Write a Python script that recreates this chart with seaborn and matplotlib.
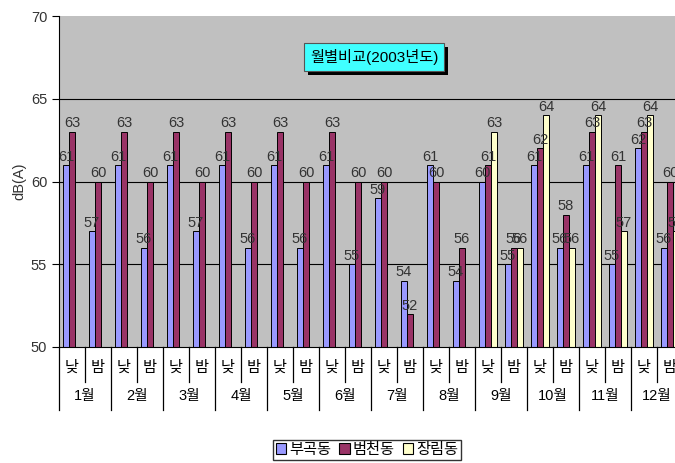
import pandas as pd
import matplotlib.pyplot as plt
import matplotlib.patheffects as pe
import seaborn as sns

plt.rcParams['font.family'] = ['Liberation Sans', 'Noto Sans CJK KR', 'DejaVu Sans']

months = ['1월', '2월', '3월', '4월', '5월', '6월', '7월', '8월', '9월', '10월', '11월', '12월']
times = ['낮', '밤']
regions = ['부곡동', '범천동', '장림동']

# 낮, 밤 순서로 월별 값
bugok = [61, 57, 61, 56, 61, 57, 61, 56, 61, 56, 61, 55,
         59, 54, 61, 54, 60, 55, 61, 56, 61, 55, 62, 56]
beomcheon = [63, 60, 63, 60, 63, 60, 63, 60, 63, 60, 63, 60,
             60, 52, 60, 56, 61, 56, 62, 58, 63, 61, 63, 60]
jangrim = [None] * 16 + [63, 56, 64, 56, 64, 57, 64, 57]

cats = [m + ' ' + t for m in months for t in times]
df = pd.DataFrame({
    'cat': cats * 3,
    'region': [r for r in regions for _ in cats],
    'dB': bugok + beomcheon + jangrim,
})

colors = ['#9999FF', '#993366', '#FFFFCC']

fig = plt.figure(figsize=(6.75, 4.63), dpi=100)
ax = fig.add_axes([59 / 675, 1 - 347 / 463, 624 / 675, 331 / 463])
ax.set_facecolor('#C0C0C0')

sns.barplot(data=df, x='cat', y='dB', hue='region', order=cats, hue_order=regions,
            palette=colors, width=0.69, errorbar=None, edgecolor='black',
            linewidth=0.7, saturation=1, ax=ax, legend=False, zorder=2)

for c in ax.containers:
    ax.bar_label(c, fontsize=10.5, color='#333333', padding=1)

for v in [55, 60, 65]:
    ax.axhline(v, color='black', lw=0.8, zorder=1)

ax.set_ylim(50, 70)
ax.set_xlim(-0.5, 23.5)
ax.set_yticks([50, 55, 60, 65, 70])
ax.tick_params(axis='y', labelsize=10.5, length=5, colors='black', labelcolor='#333333')
ax.set_xticks([])
ax.set_xlabel('')
ax.set_ylabel('dB(A)', fontsize=10.5, color='#333333', labelpad=3)
for s in ['top', 'right']:
    ax.spines[s].set_visible(False)
ax.spines['left'].set_color('black')
ax.spines['bottom'].set_color('black')

# 두 줄짜리 x축 레이블
tr = ax.get_xaxis_transform()
for i, c in enumerate(cats):
    ax.text(i, -0.063, c.split()[1], transform=tr, ha='center', va='center', fontsize=11)
for j, m in enumerate(months):
    ax.text(2 * j + 0.5, -0.148, m, transform=tr, ha='center', va='center', fontsize=10.5)
for k in range(25):
    x = k - 0.5
    y1 = -0.19 if k % 2 == 0 else -0.106
    ax.plot([x, x], [0, y1], transform=tr, color='black', lw=0.9, clip_on=False)

t = fig.text(374 / 675, 1 - 57 / 463, '월별비교(2003년도)', ha='center', va='center',
             fontsize=11, bbox=dict(boxstyle='square,pad=0.4', facecolor='#40FFFF',
                                    edgecolor='#555555', lw=0.8))
t.get_bbox_patch().set_path_effects([pe.withSimplePatchShadow(offset=(3, -3), shadow_rgbFace='black', alpha=1)])

handles = [plt.Rectangle((0, 0), 1, 1, facecolor=col, edgecolor='black', lw=0.8) for col in colors]
fig.legend(handles, regions, loc='center', bbox_to_anchor=(367 / 675, 1 - 450 / 463), ncol=3,
           fontsize=11, frameon=True, fancybox=False, edgecolor='black', handlelength=0.7,
           handleheight=0.7, handletextpad=0.2, columnspacing=0.5, borderpad=0.2, borderaxespad=0)

fig.savefig('out.png', dpi=100)
